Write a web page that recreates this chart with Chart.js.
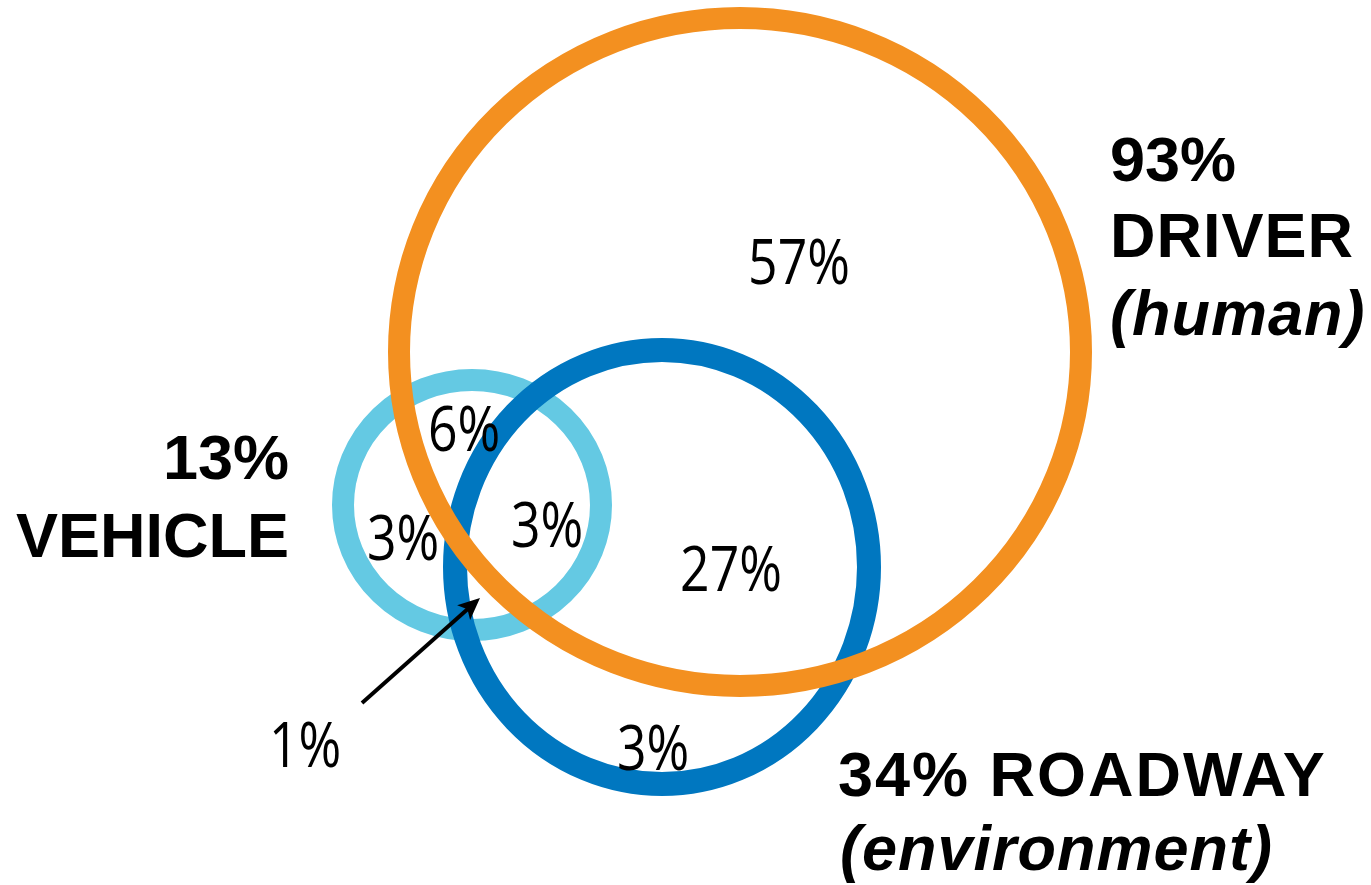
<!DOCTYPE html>
<html>
<head>
<meta charset="utf-8">
<script src="https://cdn.jsdelivr.net/npm/chart.js@4.4.1/dist/chart.umd.min.js"></script>
<style>
  html, body { margin: 0; padding: 0; background: #fff; }
  #wrap { width: 1371px; height: 885px; position: relative; }
</style>
</head>
<body>
<div id="wrap"><canvas id="venn"></canvas></div>
<script>
// Venn sets (plot units = picture pixels, y grows downward)
const setNames  = ["VEHICLE", "ROADWAY", "DRIVER"];
const setColors = ["#64C9E3", "#0077C0", "#F39020"];
const setCx     = [472, 662, 740];
const setCy     = [505, 567, 352];
const setRx     = [129, 207, 341];
const setRy     = [125, 217, 334];
const setWidth  = [22, 24, 22];

// region percentages
const regionText = ["57%", "6%", "3%", "3%", "27%", "3%", "1%"];
const regionX    = [799, 464, 403, 547, 731, 653, 305];
const regionY    = [284, 451, 560, 547, 591, 770, 767];

// set titles (bold) – one entry per line
const titleText  = ["93%", "DRIVER", "(human)", "13%", "VEHICLE", "34% ROADWAY", "(environment)"];
const titleX     = [1110, 1110, 1110, 289, 289, 838, 840];
const titleY     = [181, 257, 335, 479, 557, 796, 870];
const titleAlign = ["left", "left", "left", "right", "right", "left", "left"];
const titleItal  = [false, false, true, false, false, false, true];
const titleSpace = [0, 1, 1, 0, 0, 2, 1];

// arrow pointing at the 1% sliver
const arrowX = [362, 480];
const arrowY = [703, 598];

const vennPlugin = {
  id: "vennDraw",
  afterDatasetsDraw(chart) {
    const ctx = chart.ctx;
    const xs = chart.scales.x, ys = chart.scales.y;
    const px = v => xs.getPixelForValue(v);
    const py = v => ys.getPixelForValue(v);

    // circles
    for (let i = 0; i < setNames.length; i++) {
      const rx = Math.abs(px(setCx[i] + setRx[i]) - px(setCx[i]));
      const ry = Math.abs(py(setCy[i] + setRy[i]) - py(setCy[i]));
      ctx.save();
      ctx.beginPath();
      ctx.ellipse(px(setCx[i]), py(setCy[i]), rx, ry, 0, 0, Math.PI * 2);
      ctx.lineWidth = setWidth[i];
      ctx.strokeStyle = setColors[i];
      ctx.stroke();
      ctx.restore();
    }

    // region numbers (narrow humanist face)
    ctx.save();
    ctx.fillStyle = "#000";
    ctx.textBaseline = "alphabetic";
    ctx.textAlign = "center";
    ctx.font = "500 63px 'Open Sans', 'Noto Sans', sans-serif";
    regionText.forEach((t, i) => {
      ctx.save();
      ctx.translate(px(regionX[i]), py(regionY[i]));
      ctx.scale(0.82, 1);
      ctx.fillText(t, 0, 0);
      ctx.restore();
    });
    ctx.restore();

    // titles
    ctx.save();
    ctx.fillStyle = "#000";
    titleText.forEach((t, i) => {
      ctx.font = (titleItal[i] ? "italic " : "") + "bold 63px 'Liberation Sans', Arial, sans-serif";
      ctx.letterSpacing = titleSpace[i] + "px";
      ctx.textAlign = titleAlign[i];
      ctx.fillText(t, px(titleX[i]), py(titleY[i]));
    });
    ctx.restore();

    // arrow
    const x0 = px(arrowX[0]), y0 = py(arrowY[0]);
    const x1 = px(arrowX[1]), y1 = py(arrowY[1]);
    const ang = Math.atan2(y1 - y0, x1 - x0);
    const head = 24;
    ctx.save();
    ctx.strokeStyle = "#000";
    ctx.fillStyle = "#000";
    ctx.lineWidth = 4;
    ctx.beginPath();
    ctx.moveTo(x0, y0);
    ctx.lineTo(x1 - Math.cos(ang) * 10, y1 - Math.sin(ang) * 10);
    ctx.stroke();
    ctx.beginPath();
    ctx.moveTo(x1, y1);
    ctx.lineTo(x1 - head * Math.cos(ang - 0.42), y1 - head * Math.sin(ang - 0.42));
    ctx.lineTo(x1 - head * 0.7 * Math.cos(ang), y1 - head * 0.7 * Math.sin(ang));
    ctx.lineTo(x1 - head * Math.cos(ang + 0.42), y1 - head * Math.sin(ang + 0.42));
    ctx.closePath();
    ctx.fill();
    ctx.restore();
  }
};

new Chart(document.getElementById("venn"), {
  type: "scatter",
  data: {
    datasets: [{
      label: "centres",
      data: setCx.map((x, i) => ({ x, y: setCy[i] })),
      pointRadius: 0
    }]
  },
  options: {
    responsive: true,
    maintainAspectRatio: false,
    animation: false,
    layout: { padding: 0 },
    plugins: { legend: { display: false }, tooltip: { enabled: false } },
    scales: {
      x: { type: "linear", min: 0, max: 1371, display: false },
      y: { type: "linear", min: 0, max: 885, reverse: true, display: false }
    }
  },
  plugins: [vennPlugin]
});
</script>
</body>
</html>
